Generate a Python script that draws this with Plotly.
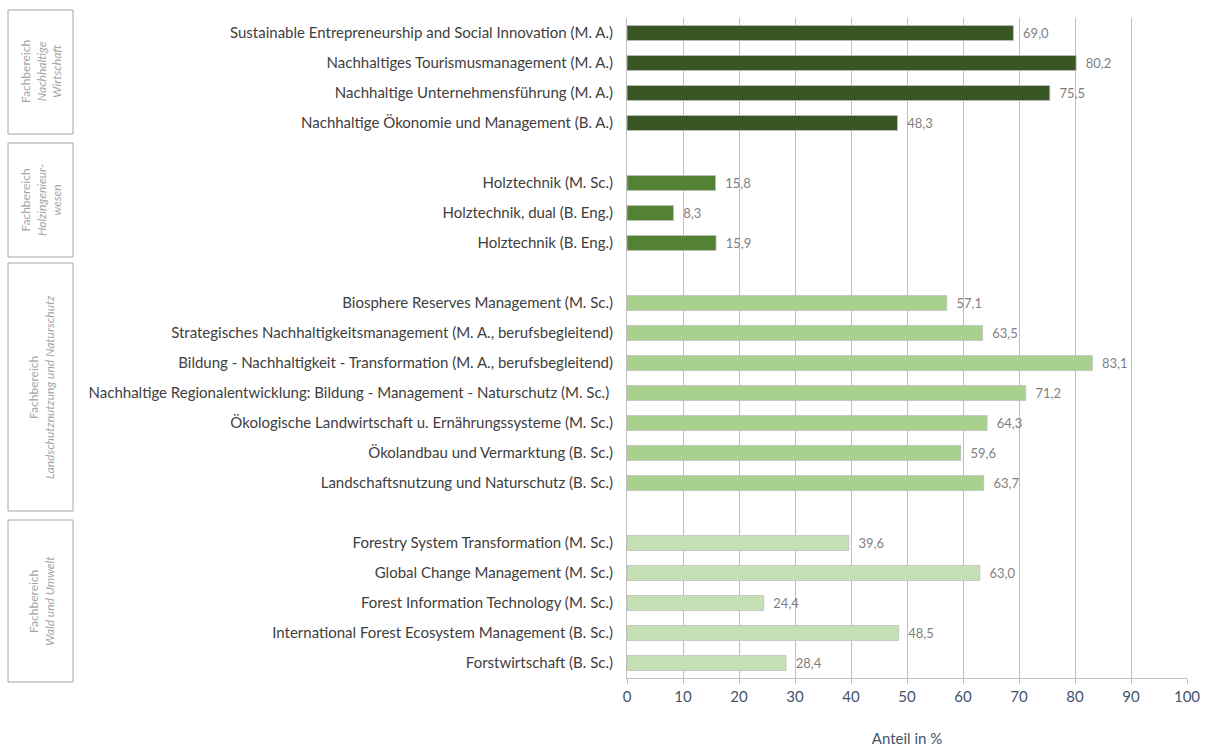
import plotly.graph_objects as go

# Studiengaenge je Fachbereich (Reihenfolge von oben nach unten)
wirtschaft_labels = [
    "Sustainable Entrepreneurship and Social Innovation (M. A.)",
    "Nachhaltiges Tourismusmanagement (M. A.)",
    "Nachhaltige Unternehmensführung (M. A.)",
    "Nachhaltige Ökonomie und Management (B. A.)",
]
wirtschaft_values = [69.0, 80.2, 75.5, 48.3]

holz_labels = [
    "Holztechnik (M. Sc.)",
    "Holztechnik, dual (B. Eng.)",
    "Holztechnik (B. Eng.)",
]
holz_values = [15.8, 8.3, 15.9]

landschaft_labels = [
    "Biosphere Reserves Management (M. Sc.)",
    "Strategisches Nachhaltigkeitsmanagement (M. A., berufsbegleitend)",
    "Bildung - Nachhaltigkeit - Transformation (M. A., berufsbegleitend)",
    "Nachhaltige Regionalentwicklung: Bildung - Management - Naturschutz (M. Sc.) ",
    "Ökologische Landwirtschaft u. Ernährungssysteme (M. Sc.)",
    "Ökolandbau und Vermarktung (B. Sc.)",
    "Landschaftsnutzung und Naturschutz (B. Sc.)",
]
landschaft_values = [57.1, 63.5, 83.1, 71.2, 64.3, 59.6, 63.7]

wald_labels = [
    "Forestry System Transformation (M. Sc.)",
    "Global Change Management (M. Sc.)",
    "Forest Information Technology (M. Sc.)",
    "International Forest Ecosystem Management (B. Sc.)",
    "Forstwirtschaft (B. Sc.)",
]
wald_values = [39.6, 63.0, 24.4, 48.5, 28.4]

groups = [
    ("Fachbereich<br><i>Nachhaltige<br>Wirtschaft</i>", wirtschaft_labels, wirtschaft_values, "#375623"),
    ("Fachbereich<br><i>Holzingenieur-<br>wesen</i>", holz_labels, holz_values, "#548235"),
    ("Fachbereich<br><i>Landschutznutzung und Naturschutz</i>", landschaft_labels, landschaft_values, "#A9D18E"),
    ("Fachbereich<br><i>Wald und Umwelt</i>", wald_labels, wald_values, "#C5E0B4"),
]

# Kategorien mit Leerzeilen zwischen den Fachbereichen
categories = []
for i, (_, labels, _, _) in enumerate(groups):
    if i > 0:
        categories.append(" " * i)
    categories.extend(labels)

W, H = 1205, 747
ml, mr, mt, mb = 627, 18, 18, 69
pw, ph = W - ml - mr, H - mt - mb

def px_x(x):
    return (x - ml) / pw

def px_y(y):
    return (H - mb - y) / ph

fig = go.Figure()
for name, labels, values, color in groups:
    fig.add_trace(go.Bar(
        y=labels, x=values, orientation="h",
        marker=dict(color=color, line=dict(color="#BFBFBF", width=0.8)),
        text=values, texttemplate="  %{x:.1f}", textposition="outside",
        constraintext="none",
        textfont=dict(color="#7F7F7F", size=13),
        cliponaxis=False, showlegend=False,
    ))

# Kaesten mit Fachbereichsnamen links
boxes = [(10, 134), (143, 257), (263, 511), (520, 682)]
for (name, _, _, _), (y0, y1) in zip(groups, boxes):
    fig.add_shape(type="rect", xref="paper", yref="paper",
                  x0=px_x(8), x1=px_x(73), y0=px_y(y1), y1=px_y(y0),
                  line=dict(color="#A6A6A6", width=1))
    fig.add_annotation(xref="paper", yref="paper", x=px_x(41), y=px_y((y0 + y1) / 2),
                       xanchor="center", yanchor="middle",
                       text=name, textangle=-90, showarrow=False,
                       font=dict(size=12, color="#A6A6A6"), align="center")

fig.update_layout(
    width=W, height=H,
    margin=dict(l=ml, r=mr, t=mt, b=mb, autoexpand=False),
    plot_bgcolor="white", paper_bgcolor="white",
    font=dict(family="Lato, Open Sans, sans-serif", color="#404040"),
    separators=",.",
    bargap=0.5,
    xaxis=dict(
        range=[0, 100], dtick=10, showgrid=True, gridcolor="#BFBFBF", gridwidth=1,
        showline=True, linecolor="#BFBFBF", ticks="outside", ticklen=5, tickcolor="#BFBFBF",
        tickfont=dict(size=15, color="#44546A"), zeroline=False, automargin=False,
        title=dict(text="Anteil in %", font=dict(size=15, color="#44546A"), standoff=30),
    ),
    yaxis=dict(
        type="category", categoryorder="array", categoryarray=categories,
        range=[len(categories) - 0.5, -0.5], automargin=False,
        showline=True, linecolor="#BFBFBF", ticks="", showgrid=False,
        tickfont=dict(size=15, color="#404040"), ticklabelstandoff=10,
    ),
)

fig.write_html("out.html", config={"displayModeBar": False},
               post_script="document.body.style.margin='0';")
